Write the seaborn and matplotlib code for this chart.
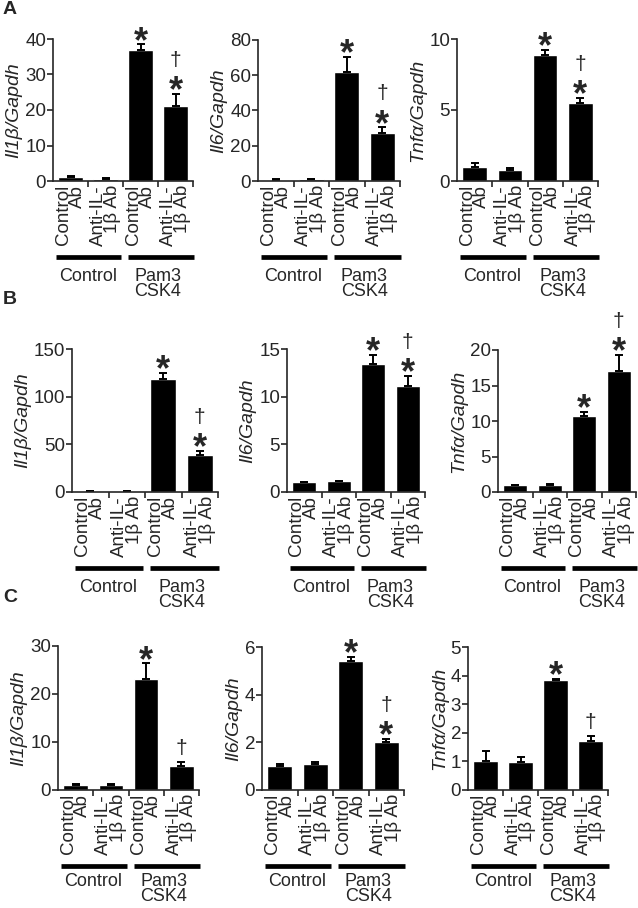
"""
Cytokine mRNA levels (relative to Gapdh) after anti-IL-1beta antibody treatment.
"""

import numpy as np
import pandas as pd
import matplotlib
matplotlib.use("Agg")
import matplotlib.pyplot as plt
import matplotlib.transforms as mtransforms
import seaborn as sns

# ---- data -------------------------------------------------------------
cond_labels = ["Control\nAb", "Anti-IL-\n1β Ab", "Control\nAb", "Anti-IL-\n1β Ab"]
cond_keys = ["ctrl_ctrlAb", "ctrl_antiIL1b", "pam_ctrlAb", "pam_antiIL1b"]
group_labels = ["Control", "Pam3\nCSK4"]
gene_labels = ["Il1β/Gapdh", "Il6/Gapdh", "Tnfα/Gapdh"]
panel_letters = ["A", "B", "C"]

row_a_means = [[1.0, 0.6, 37.0, 21.2], [0.8, 1.2, 62.0, 27.0], [1.0, 0.8, 8.9, 5.5]]
row_a_errs = [[0.3, 0.15, 1.5, 3.3], [0.1, 0.2, 8.5, 3.5], [0.25, 0.1, 0.35, 0.35]]
row_a_marks = [["", "", "*", "*†"], ["", "", "*", "*†"], ["", "", "*", "*†"]]
row_a_yticks = [[0, 10, 20, 30, 40], [0, 20, 40, 60, 80], [0, 5, 10]]

row_b_means = [[0.8, 0.6, 119.0, 39.0], [1.0, 1.15, 13.4, 11.1], [1.0, 1.0, 10.7, 17.0]]
row_b_errs = [[0.2, 0.1, 6.0, 4.0], [0.1, 0.05, 1.0, 1.1], [0.05, 0.1, 0.6, 2.3]]
row_b_marks = [["", "", "*", "*†"], ["", "", "*", "*†"], ["", "", "*", "*†"]]
row_b_yticks = [[0, 50, 100, 150], [0, 5, 10, 15], [0, 5, 10, 15, 20]]

row_c_means = [[1.0, 1.0, 23.2, 5.0], [1.0, 1.1, 5.4, 2.0], [1.0, 0.98, 3.85, 1.7]]
row_c_errs = [[0.3, 0.25, 3.2, 0.8], [0.08, 0.06, 0.2, 0.15], [0.35, 0.18, 0.04, 0.18]]
row_c_marks = [["", "", "*", "†"], ["", "", "*", "*†"], ["", "", "*", "†"]]
row_c_yticks = [[0, 10, 20, 30], [0, 2, 4, 6], [0, 1, 2, 3, 4, 5]]

rows = [
    (row_a_means, row_a_errs, row_a_marks, row_a_yticks),
    (row_b_means, row_b_errs, row_b_marks, row_b_yticks),
    (row_c_means, row_c_errs, row_c_marks, row_c_yticks),
]

# ---- layout (pixel boxes: left, top, right, zero line) -----------------
W, H = 638, 908
boxes = [
    [(53, 39, 193, 181), (258, 40, 400, 181), (457, 39, 598, 181)],
    [(72, 349, 218, 492), (287, 349, 425, 492), (498, 350, 636, 492)],
    [(58, 646, 199, 790), (262, 647, 404, 790), (468, 647, 608, 790)],
]
letter_y = [10, 300, 598]
group_gap = [11, 11, 7]  # px between group bar and its label

sns.set_style("ticks")
plt.rcParams["font.family"] = ["Liberation Sans", "DejaVu Sans"]
plt.rcParams["axes.linewidth"] = 1.2

fig = plt.figure(figsize=(W / 100, H / 100), dpi=100)

STAR_PT = 26
DAG_PT = 15


def px_to_pt(px):
    return px * 72 / 100


for r, (means, errs, marks, ticks) in enumerate(rows):
    fig.text(3 / W, 1 - letter_y[r] / H, panel_letters[r], fontsize=14,
             fontweight="bold", ha="left", va="center")
    for c in range(3):
        x0, ytop, x1, yz = boxes[r][c]
        ax = fig.add_axes([x0 / W, 1 - yz / H, (x1 - x0) / W, (yz - ytop) / H])

        df = pd.DataFrame({"cond": cond_keys, "value": means[c]})
        sns.barplot(data=df, x="cond", y="value", order=cond_keys, color="black",
                    saturation=1, width=0.7, errorbar=None, ax=ax)
        xs = np.arange(4)
        ax.errorbar(xs, means[c], yerr=[np.zeros(4), errs[c]], fmt="none",
                    ecolor="black", elinewidth=1.4, capsize=3, capthick=1.4)

        yt = ticks[c]
        ax.set_xlim(-0.5, 3.5)
        ax.set_ylim(0, yt[-1])
        ax.set_yticks(yt)
        ax.tick_params(axis="y", labelsize=13.5, length=4, width=1.2, pad=1)
        ax.set_xticks(xs)
        ax.set_xticklabels(cond_labels, rotation=90, ha="center", va="top",
                           multialignment="right", linespacing=0.82, fontsize=13.5)
        ax.tick_params(axis="x", which="major", length=0, pad=3)
        ax.set_xticks([0.5, 1.5, 2.5, 3.5], minor=True)
        ax.tick_params(axis="x", which="minor", length=4, width=1.2, direction="out")
        ax.set_xlabel("")
        ax.set_ylabel(gene_labels[c], fontsize=14, fontstyle="italic", labelpad=2)
        sns.despine(ax=ax)

        # significance marks above the error bars
        for i in range(4):
            m = marks[c][i]
            top = means[c][i] + errs[c][i]
            if "*" in m:
                ax.annotate("*", xy=(i, top), xytext=(0, px_to_pt(13 - 0.57 * STAR_PT * 100 / 72)),
                            textcoords="offset points", ha="center", va="baseline",
                            fontsize=STAR_PT, fontweight="bold", annotation_clip=False)
                dag_off = 34
            else:
                dag_off = 14
            if "†" in m:
                ax.annotate("†", xy=(i, top), xytext=(0, px_to_pt(dag_off - 0.28 * DAG_PT * 100 / 72)),
                            textcoords="offset points", ha="center", va="baseline",
                            fontsize=DAG_PT, annotation_clip=False)

        # group bars and labels below the axis
        trans = mtransforms.blended_transform_factory(ax.transData, fig.transFigure)
        line_px = yz + 76
        for (ga, gb) in [(-0.42, 1.45), (1.65, 3.52)]:
            ax.plot([ga, gb], [1 - line_px / H] * 2, color="black", lw=3.4,
                    solid_capstyle="butt", transform=trans, clip_on=False)
        for gx, lab in zip([0.5, 2.5], group_labels):
            ax.text(gx, 1 - (line_px + group_gap[r]) / H, lab, transform=trans,
                    ha="center", va="top", fontsize=13, linespacing=0.88)

fig.savefig("out.png", dpi=100)
